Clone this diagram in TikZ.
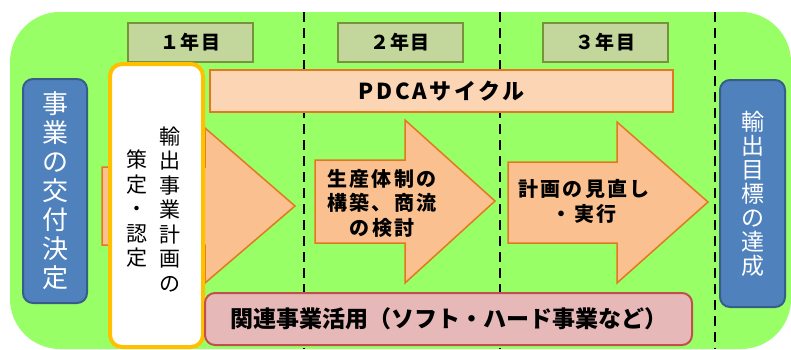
\documentclass[tikz,border=0pt]{standalone}
\usepackage{fontspec}
\setmainfont{Noto Sans CJK JP}
\usetikzlibrary{positioning}
\definecolor{plangreen}{RGB}{153, 255, 102}
\definecolor{planyear}{RGB}{195, 214, 155}
\definecolor{planolive}{RGB}{119, 147, 60}
\definecolor{planpeach}{RGB}{250, 192, 144}
\definecolor{planlight}{RGB}{252, 213, 181}
\definecolor{planorange}{RGB}{228, 120, 30}
\definecolor{plangold}{RGB}{255, 192, 0}
\definecolor{planblue}{RGB}{79, 129, 189}
\definecolor{plandarkblue}{RGB}{56, 93, 138}
\definecolor{planpink}{RGB}{230, 185, 184}
\definecolor{planred}{RGB}{192, 80, 77}

\begin{document}
\begin{tikzpicture}[
    x=1pt, y=-1pt,
    yearbox/.style={
        rectangle,
        draw=planolive,
        fill=planyear,
        line width=2,
        minimum width=125,
        minimum height=39,
        font=\bfseries\fontsize{19}{22}\selectfont\addfontfeature{LetterSpace=6}
    },
    cyclebox/.style={
        rectangle,
        draw=planorange,
        fill=planlight,
        line width=2,
        minimum width=463,
        minimum height=42,
        font=\bfseries\fontsize{22}{26}\selectfont\addfontfeature{LetterSpace=12}
    },
    blockarrow/.style={
        draw=planorange,
        fill=planpeach,
        line width=1.5
    },
    arrowtext/.style={
        align=center,
        inner sep=0,
        font=\bfseries\fontsize{20}{24.5}\selectfont\addfontfeature{LetterSpace=12}
    },
    goalbox/.style={
        rectangle,
        rounded corners=10,
        draw=plandarkblue,
        fill=planblue,
        line width=2,
        text=white,
        align=center,
        inner sep=0
    },
    planbox/.style={
        rectangle,
        rounded corners=12,
        draw=plangold,
        fill=white,
        line width=4,
        minimum width=93,
        minimum height=283
    },
    vtext/.style={
        align=center,
        inner sep=0,
        font=\fontsize{21}{24.5}\selectfont
    },
    supportbox/.style={
        rectangle,
        rounded corners=10,
        draw=planred,
        fill=planpink,
        line width=2,
        minimum width=487,
        minimum height=52,
        font=\bfseries\fontsize{23}{27}\selectfont
    },
    yearline/.style={
        line width=2.5,
        dash pattern=on 10 off 6
    }
]
\useasboundingbox (0,0) rectangle (791,349);

% Background rectangle
\fill[plangreen, rounded corners=50] (10,12) rectangle (791,349);

% Year borders
\foreach \x in {304,500,715}
    \draw[yearline] (\x,12) -- (\x,349);

% Years
\node[yearbox] (year1) at (190.5,42.5) {１年目};
\node[yearbox] (year2) at (400,42.5) {２年目};
\node[yearbox] (year3) at (605.5,42.5) {３年目};

% PDCA cycle
\node[cyclebox] (pdca) at (441.5,91) {PDCAサイクル};

% Block arrows
\draw[blockarrow] (102,167) -- (205,167) -- (205,128) -- (295,206) -- (205,283) -- (205,245) -- (102,245) -- cycle;
\draw[blockarrow] (315,160) -- (405,160) -- (405,120) -- (495,201) -- (405,283) -- (405,243) -- (315,243) -- cycle;
\draw[blockarrow] (508,162) -- (617,162) -- (617,122) -- (708,202) -- (617,283) -- (617,243) -- (508,243) -- cycle;
\node[arrowtext] (build) at (382,203) {生産体制の\\構築、商流\\の検討};
\node[arrowtext] (review) at (584,201.5) {計画の見直し\\・実行};

% Export plan
\node[planbox] (plan) at (156.5,205.5) {};
\node[vtext] (plantext) at (170,209) {輸\\出\\事\\業\\計\\画\\の};
\node[vtext] (approve) at (137,209) {策\\定\\・\\認\\定};

% Start and goal
\node[goalbox, minimum width=64, minimum height=224, font=\fontsize{26}{29}\selectfont] (start) at (55,191) {事\\業\\の\\交\\付\\決\\定};
\node[goalbox, minimum width=65, minimum height=227, font=\fontsize{23}{24}\selectfont] (goal) at (752.5,193.5) {輸\\出\\目\\標\\の\\達\\成};

% Related projects
\node[supportbox] (support) at (448.5,319) {関連事業活用（ソフト・ハード事業など）};

\end{tikzpicture}
\end{document}
